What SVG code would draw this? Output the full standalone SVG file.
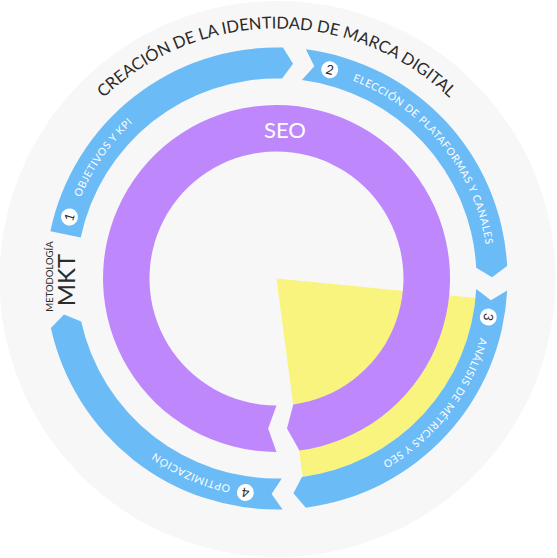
<svg xmlns="http://www.w3.org/2000/svg" width="557" height="558" viewBox="0 0 557 558">
  <style>
    .blue { fill: #6bbbf7; }
    .lbl { font-family: Lato, "Noto Sans", "Liberation Sans", sans-serif; font-size: 10.5px; fill: #ffffff; letter-spacing: 0.6px; }
    .num { font-family: Lato, "Noto Sans", "Liberation Sans", sans-serif; font-size: 13px; fill: #2b2b2b; text-anchor: middle; }
    .dark { font-family: Lato, "Noto Sans", "Liberation Sans", sans-serif; fill: #2b2b2b; }
  </style>
  <defs>
    <path id="pTitle" d="M26.5,278.5 A250,250 0 0 1 526.5,278.5"/>
    <path id="p1" d="M80.64,197.37 A212,212 0 0 1 269.10,66.63"/>
    <path id="p2" d="M352.47,80.58 A212,212 0 0 1 488.47,274.80"/>
    <path id="p3" d="M480.08,337.65 A212,212 0 0 1 313.31,487.28"/>
    <path id="p4" d="M230.61,485.48 A212,212 0 0 1 71.72,333.37"/>
  </defs>
  <rect width="557" height="558" fill="#ffffff"/>
  <circle id="background" cx="277.5" cy="279" r="278" fill="#f7f7f7"/>

  <g id="title">
    <text class="dark" font-size="16.5" text-anchor="middle"><textPath href="#pTitle" startOffset="50%">CREACIÓN DE LA IDENTIDAD DE MARCA DIGITAL</textPath></text>
  </g>

  <g id="yellow-sector">
    <path d="M276.5,278.5 L475.55,298.02 A200,200 0 0 1 302.61,476.79 Z" fill="#f9f47e"/>
  </g>

  <g id="seo-ring">
    <path d="M276.5,452 A173.5,173.5 0 1 1 299.45,450.48 L286.98,428.38 L293.30,404.38 A127,127 0 1 0 276.5,405.5 L268.11,428.52 Z" fill="#be87fc"/>
    <text x="285" y="137.5" font-family="Lato, 'Noto Sans', 'Liberation Sans', sans-serif" font-size="22" fill="#ffffff" text-anchor="middle">SEO</text>
  </g>

  <g id="step1">
    <path class="blue" d="M50.38,231.26 A231,231 0 0 1 282.95,47.59 L293.03,63.64 L282.08,78.58 A200,200 0 0 0 80.73,237.60 Z"/>
    <g transform="translate(69.5,217) rotate(-73.5)">
      <circle r="8.5" fill="#ffffff"/>
      <text class="num" y="4.6">1</text>
    </g>
    <text class="lbl"><textPath href="#p1">OBJETIVOS Y KPI</textPath></text>
  </g>

  <g id="step2">
    <path class="blue" d="M305.85,49.37 A231,231 0 0 1 507.16,266.01 L492.0,277.37 L476.21,267.68 A200,200 0 0 0 301.91,80.12 L314.29,66.34 Z"/>
    <g transform="translate(329.7,69.7) rotate(14.3)">
      <circle r="8.5" fill="#ffffff"/>
      <text class="num" y="4.6">2</text>
    </g>
    <text class="lbl"><textPath href="#p2">ELECCIÓN DE PLATAFORMAS Y CANALES</textPath></text>
  </g>

  <g id="step3">
    <path class="blue" d="M507.18,290.59 A231,231 0 0 1 305.85,507.63 L293.41,493.34 L301.91,476.88 A200,200 0 0 0 476.23,288.97 L490.90,300.28 Z"/>
    <g transform="translate(488.3,317) rotate(100.3)">
      <circle r="8.5" fill="#ffffff"/>
      <text class="num" y="4.6">3</text>
    </g>
    <text class="lbl"><textPath href="#p3">ANÁLISIS DE MÉTRICAS Y SEO</textPath></text>
  </g>

  <g id="step4">
    <path class="blue" d="M282.55,509.42 A231,231 0 0 1 50.89,328.11 L64.02,314.44 L81.17,321.45 A200,200 0 0 0 281.74,478.43 L271.61,493.94 Z"/>
    <g transform="translate(245.4,492.5) rotate(188.3)">
      <circle r="8.5" fill="#ffffff"/>
      <text class="num" y="4.6">4</text>
    </g>
    <text class="lbl"><textPath href="#p4">OPTIMIZACIÓN</textPath></text>
  </g>

  <g id="methodology">
    <text class="dark" font-size="9.5" text-anchor="middle" transform="translate(53,276.5) rotate(-90)">METODOLOGÍA</text>
    <text class="dark" font-size="24" text-anchor="middle" transform="translate(74.5,280) rotate(-90)">MKT</text>
  </g>
</svg>
